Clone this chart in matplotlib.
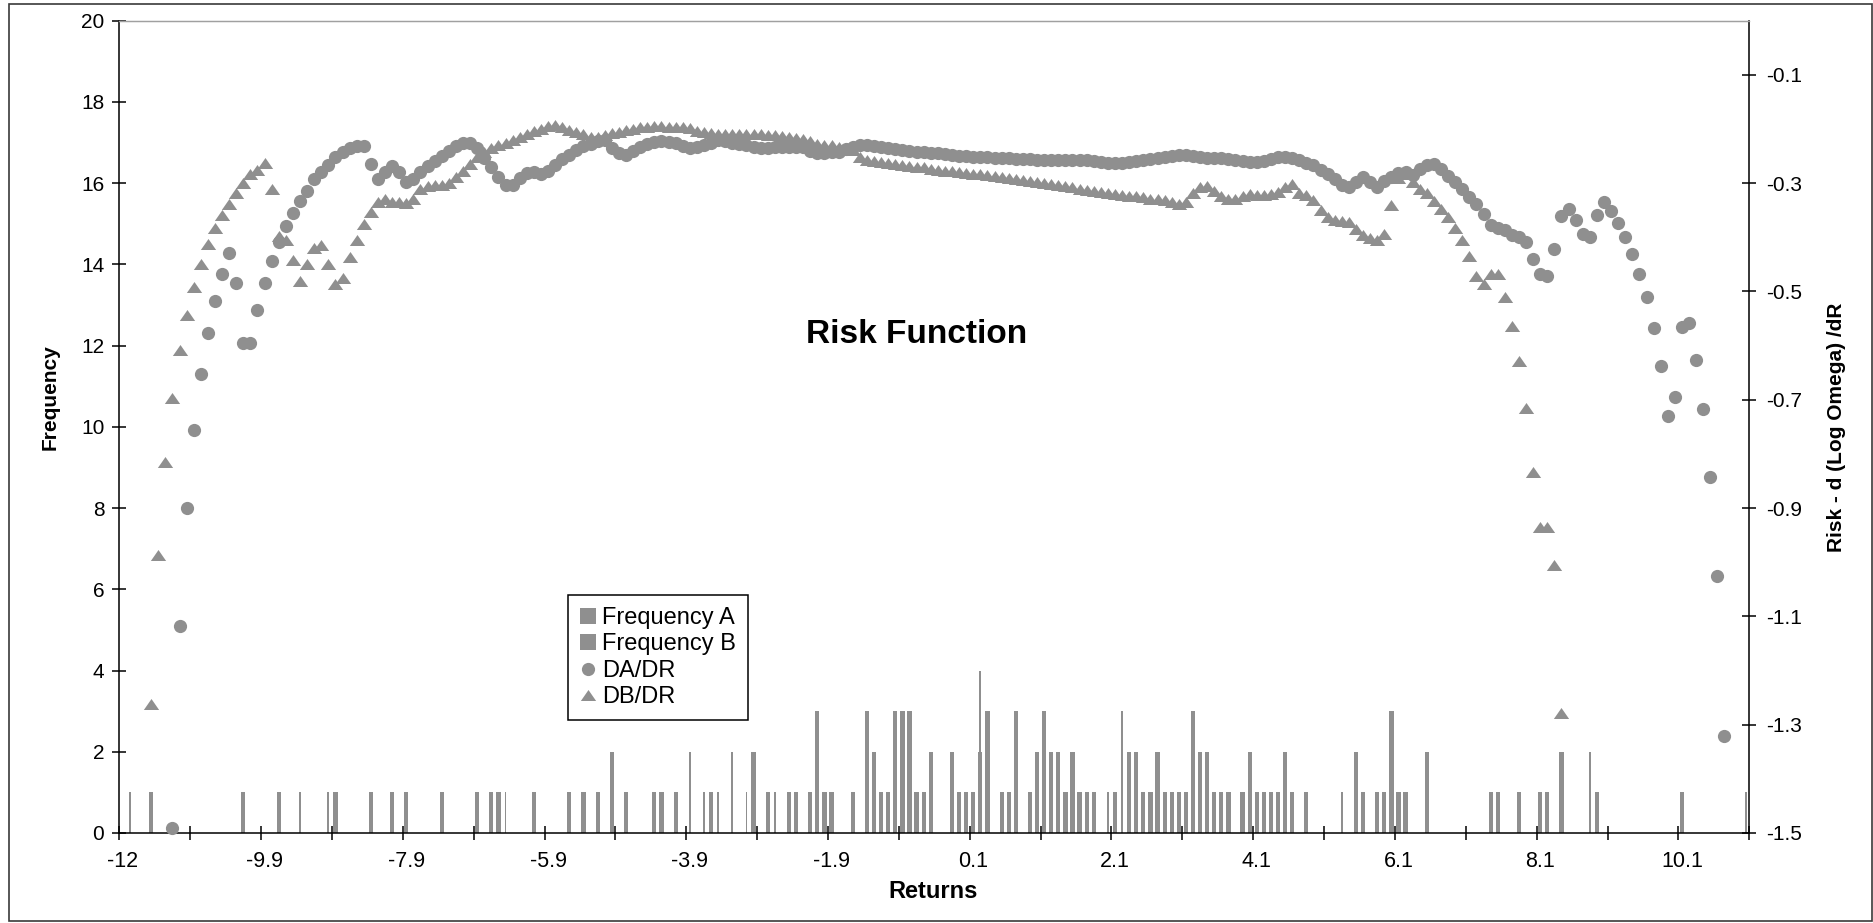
import numpy as np
import matplotlib
matplotlib.use("Agg")
import matplotlib.pyplot as plt
from matplotlib.patches import Rectangle
from matplotlib.ticker import FixedLocator, FixedFormatter, NullFormatter

plt.rcParams['font.family'] = ['Liberation Sans', 'DejaVu Sans']
plt.rcParams['axes.unicode_minus'] = False

# ---------------- data ----------------
n_categories = 230                      # return buckets on the category axis
x_tick_labels = ['-12', '-9.9', '-7.9', '-5.9', '-3.9', '-1.9',
                 '0.1', '2.1', '4.1', '6.1', '8.1', '10.1']

freq_a_cat = [4, 17, 22, 30, 35, 38, 40, 45, 50, 52, 53, 58, 63, 65, 67, 69, 71, 75, 76, 78,
              83, 89, 91, 94, 95, 97, 98, 99, 100, 103, 105, 106, 107, 108, 109, 110, 111, 112, 113, 114,
              117, 118, 119, 120, 121, 122, 124, 125, 126, 128, 129, 130, 131, 132, 133, 134, 135, 136, 137, 140,
              142, 143, 144, 145, 146, 147, 148, 149, 150, 151, 152, 153, 154, 155, 156, 158, 159, 160, 161, 162,
              163, 164, 165, 167, 174, 175, 177, 178, 179, 180, 181, 184, 193, 194, 197, 200, 201, 203, 208, 220]
freq_a_val = [1, 1, 1, 1, 1, 1, 1, 1, 1, 1,
              1, 1, 1, 1, 1, 2, 1, 1, 1, 1,
              1, 2, 1, 1, 1, 1, 3, 1, 1, 1,
              3, 2, 1, 1, 3, 3, 3, 1, 1, 2,
              2, 1, 1, 1, 2, 3, 1, 1, 3, 1,
              2, 3, 2, 2, 1, 2, 1, 1, 1, 1,
              2, 2, 1, 1, 2, 1, 1, 1, 1, 3,
              2, 2, 1, 1, 1, 1, 2, 1, 1, 1,
              1, 2, 1, 1, 2, 1, 1, 1, 3, 1,
              1, 2, 1, 1, 1, 1, 1, 2, 1, 1]

freq_b_cat = [1, 25, 29, 54, 80, 82, 84, 86, 88, 92, 121, 139, 141, 172, 207, 229]
freq_b_val = [1, 1, 1, 1, 2, 1, 1, 2, 1, 1, 4, 1, 3, 1, 2, 1]

da_start = 7
da_dr = [-1.491, -1.118, -0.900, -0.755, -0.652, -0.576, -0.517, -0.468, -0.429, -0.485,
         -0.595, -0.596, -0.534, -0.484, -0.443, -0.408, -0.380, -0.355, -0.333, -0.314,
         -0.293, -0.280, -0.266, -0.252, -0.243, -0.236, -0.231, -0.231, -0.264, -0.292,
         -0.280, -0.269, -0.280, -0.298, -0.293, -0.280, -0.269, -0.259, -0.249, -0.240,
         -0.231, -0.225, -0.225, -0.236, -0.254, -0.270, -0.289, -0.304, -0.304, -0.291,
         -0.281, -0.279, -0.284, -0.278, -0.266, -0.255, -0.248, -0.239, -0.231, -0.227,
         -0.222, -0.221, -0.236, -0.244, -0.248, -0.240, -0.233, -0.227, -0.224, -0.223,
         -0.224, -0.225, -0.231, -0.236, -0.233, -0.230, -0.225, -0.221, -0.222, -0.225,
         -0.228, -0.230, -0.233, -0.235, -0.235, -0.234, -0.233, -0.233, -0.233, -0.234,
         -0.240, -0.245, -0.245, -0.243, -0.242, -0.237, -0.233, -0.230, -0.230, -0.231,
         -0.233, -0.235, -0.237, -0.239, -0.240, -0.242, -0.243, -0.244, -0.245, -0.246,
         -0.248, -0.249, -0.250, -0.251, -0.252, -0.252, -0.254, -0.254, -0.254, -0.255,
         -0.255, -0.256, -0.257, -0.257, -0.257, -0.257, -0.257, -0.257, -0.258, -0.258,
         -0.260, -0.261, -0.263, -0.263, -0.263, -0.261, -0.259, -0.257, -0.255, -0.253,
         -0.251, -0.249, -0.248, -0.248, -0.250, -0.251, -0.253, -0.254, -0.254, -0.255,
         -0.257, -0.260, -0.261, -0.261, -0.259, -0.255, -0.251, -0.251, -0.254, -0.258,
         -0.262, -0.266, -0.275, -0.283, -0.292, -0.303, -0.307, -0.297, -0.288, -0.298,
         -0.307, -0.296, -0.288, -0.281, -0.280, -0.285, -0.274, -0.267, -0.265, -0.274,
         -0.287, -0.298, -0.311, -0.325, -0.338, -0.357, -0.378, -0.382, -0.386, -0.396,
         -0.399, -0.409, -0.440, -0.468, -0.471, -0.421, -0.360, -0.347, -0.368, -0.393,
         -0.400, -0.359, -0.334, -0.351, -0.373, -0.400, -0.431, -0.467, -0.511, -0.567,
         -0.638, -0.730, -0.694, -0.565, -0.559, -0.627, -0.717, -0.843, -1.026, -1.320]

db_start = 4
db_dr = [-1.261, -0.987, -0.815, -0.697, -0.608, -0.543, -0.491, -0.449, -0.413, -0.383,
         -0.358, -0.338, -0.319, -0.300, -0.284, -0.275, -0.263, -0.310, -0.398, -0.405,
         -0.441, -0.480, -0.450, -0.419, -0.415, -0.450, -0.486, -0.475, -0.437, -0.405,
         -0.375, -0.353, -0.334, -0.329, -0.334, -0.334, -0.336, -0.330, -0.311, -0.305,
         -0.304, -0.304, -0.300, -0.289, -0.278, -0.264, -0.251, -0.242, -0.236, -0.230,
         -0.225, -0.220, -0.215, -0.209, -0.204, -0.200, -0.195, -0.193, -0.197, -0.202,
         -0.206, -0.210, -0.214, -0.214, -0.211, -0.208, -0.205, -0.202, -0.200, -0.197,
         -0.196, -0.195, -0.195, -0.196, -0.197, -0.197, -0.198, -0.203, -0.206, -0.208,
         -0.209, -0.209, -0.209, -0.209, -0.209, -0.209, -0.210, -0.211, -0.212, -0.213,
         -0.215, -0.216, -0.219, -0.223, -0.227, -0.229, -0.230, -0.233, -0.236, -0.239,
         -0.251, -0.257, -0.260, -0.261, -0.263, -0.264, -0.266, -0.268, -0.270, -0.271,
         -0.273, -0.275, -0.277, -0.278, -0.279, -0.281, -0.283, -0.284, -0.285, -0.287,
         -0.289, -0.290, -0.293, -0.294, -0.296, -0.297, -0.299, -0.301, -0.303, -0.305,
         -0.308, -0.310, -0.312, -0.314, -0.316, -0.318, -0.320, -0.321, -0.323, -0.324,
         -0.326, -0.329, -0.330, -0.332, -0.335, -0.338, -0.334, -0.319, -0.308, -0.306,
         -0.315, -0.324, -0.329, -0.330, -0.324, -0.320, -0.321, -0.321, -0.320, -0.317,
         -0.308, -0.302, -0.319, -0.322, -0.332, -0.350, -0.362, -0.368, -0.370, -0.372,
         -0.385, -0.395, -0.402, -0.405, -0.394, -0.340, -0.290, -0.284, -0.298, -0.310,
         -0.318, -0.333, -0.347, -0.362, -0.382, -0.405, -0.434, -0.471, -0.486, -0.467,
         -0.468, -0.510, -0.563, -0.628, -0.715, -0.834, -0.935, -0.935, -1.005, -1.278]

left_ticks = [0, 2, 4, 6, 8, 10, 12, 14, 16, 18, 20]
right_ticks = [-1.5, -1.3, -1.1, -0.9, -0.7, -0.5, -0.3, -0.1]

# ---------------- figure ----------------
GRAY = '#8f8f8f'
fig = plt.figure(figsize=(18.74, 9.23), dpi=100)
ax = fig.add_axes([0.06366, 0.09751, 0.86980, 0.88007])
ax2 = ax.twinx()

ax.bar(freq_a_cat, freq_a_val, width=0.6, color=GRAY, linewidth=0, label='Frequency A')
ax.bar(freq_b_cat, freq_b_val, width=0.25, color=GRAY, linewidth=0, label='Frequency B')

da_x = np.arange(da_start, da_start + len(da_dr))
db_x = np.arange(db_start, db_start + len(db_dr))
tri = [(-1.0, -0.72), (1.0, -0.72), (0.0, 0.72)]
ax2.plot(da_x, da_dr, linestyle='none', marker='o', ms=9.5, color=GRAY,
         mec=GRAY, mew=0, label='DA/DR', clip_on=False)
ax2.plot(db_x, db_dr, linestyle='none', marker=tri, ms=11, color=GRAY,
         mec=GRAY, mew=0, label='DB/DR', clip_on=False)

# axes ranges
ax.set_xlim(-0.5, n_categories - 0.5)
ax.set_ylim(0, 20)
ax2.set_ylim(-1.5, 0.0)

# x ticks: marks on bucket boundaries every 10, labels every 20 buckets
boundaries = np.arange(-0.5, n_categories, 10)
label_pos = np.arange(0, 20 * len(x_tick_labels), 20)
ax.xaxis.set_major_locator(FixedLocator(boundaries))
ax.xaxis.set_major_formatter(NullFormatter())
ax.xaxis.set_minor_locator(FixedLocator(label_pos))
ax.xaxis.set_minor_formatter(FixedFormatter(x_tick_labels))
ax.tick_params(axis='x', which='major', direction='inout', length=9.5, width=1.1, color='black')
ax.tick_params(axis='x', which='minor', length=0, pad=13, labelsize=15.5)

ax.set_yticks(left_ticks)
ax.set_yticklabels([str(t) for t in left_ticks])
ax.tick_params(axis='y', direction='inout', length=9.5, width=1.1, pad=6, labelsize=15)

ax2.set_yticks(right_ticks)
ax2.set_yticklabels(['%.1f' % t for t in right_ticks])
ax2.tick_params(axis='y', direction='inout', length=9.5, width=1.1, pad=7.5, labelsize=15)

# spines
for a in (ax, ax2):
    a.spines['top'].set_color('#a0a0a0')
    a.spines['top'].set_linewidth(0.9)
ax.spines['left'].set_linewidth(1.1)
ax.spines['bottom'].set_linewidth(1.1)
ax.spines['right'].set_visible(False)
ax2.spines['left'].set_visible(False)
ax2.spines['bottom'].set_visible(False)
ax2.spines['right'].set_linewidth(1.1)

# axis titles
ax.set_xlabel('Returns', fontsize=17, fontweight='bold')
ax.xaxis.set_label_coords(0.4995, -0.0726)
ax.xaxis.label.set_va('center')
ax.set_ylabel('Frequency', fontsize=15, fontweight='bold')
ax.yaxis.set_label_coords(-0.0425, 0.537)
ax.yaxis.label.set_va('center')
ax2.set_ylabel('Risk - d (Log Omega) /dR', fontsize=15, fontweight='bold')
ax2.yaxis.set_label_coords(1.0532, 0.5)
ax2.yaxis.label.set_va('center')

# chart title inside the plot area
ax2.set_title('Risk Function', fontsize=24, fontweight='bold', x=0.4894, y=0.6029, pad=0)

# legend
h1, l1 = ax.get_legend_handles_labels()
h2, l2 = ax2.get_legend_handles_labels()
leg = ax2.legend(h1 + h2, l1 + l2, loc='upper left', bbox_to_anchor=(0.2753, 0.2925),
                 borderaxespad=0, frameon=True, fancybox=False, edgecolor='black',
                 framealpha=1, fontsize=17, handlelength=0.65, handleheight=0.65,
                 handletextpad=0.3, labelspacing=0.18, borderpad=0.5, numpoints=1)
leg.get_frame().set_linewidth(1.1)
for hp in leg.legend_handles[:2]:
    hp.set_width(hp.get_height())

# outer chart border
fig.add_artist(Rectangle((0.0048, 0.0022), 0.99413, 0.9935, transform=fig.transFigure,
                         fill=False, edgecolor='#3a3a3a', linewidth=1.2))

fig.savefig('out.png', dpi=100)
